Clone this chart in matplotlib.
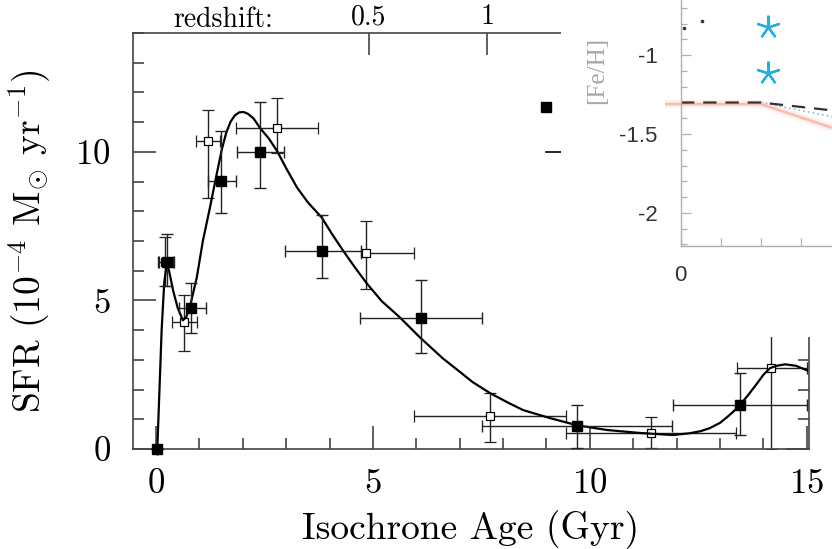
import matplotlib
matplotlib.use("Agg")
import matplotlib.pyplot as plt
from matplotlib.patches import Rectangle
from matplotlib.ticker import MultipleLocator, FixedLocator

"""----- data read off the figure -----"""

# fitted SFR curve (Gyr, 1e-4 Msun/yr)
curve_age = [0.03, 0.08, 0.13, 0.19, 0.25, 0.30, 0.40, 0.50, 0.62, 0.70, 0.80, 0.94,
             1.08, 1.24, 1.40, 1.52, 1.62, 1.72, 1.82, 1.92, 2.02, 2.12, 2.25, 2.40,
             2.60, 2.79, 3.00, 3.25, 3.50, 3.82, 4.05, 4.31, 4.60, 4.86, 5.20, 5.62,
             6.08, 6.61, 7.00, 7.30, 7.70, 8.10, 8.46, 9.08, 9.70, 10.39, 11.15, 11.91,
             12.30, 12.55, 12.76, 13.00, 13.16, 13.30, 13.46, 13.65, 13.85, 14.00,
             14.15, 14.30, 14.50, 14.75, 15.00]
curve_sfr = [0.0, 2.0, 4.0, 5.6, 6.27, 6.0, 5.3, 4.75, 4.33, 4.45, 4.9, 5.77,
             7.0, 8.1, 9.26, 10.1, 10.65, 11.02, 11.23, 11.33, 11.34, 11.28, 11.12, 10.8,
             10.45, 10.03, 9.45, 8.8, 8.3, 7.79, 7.25, 6.68, 6.08, 5.57, 4.98, 4.43,
             3.76, 3.05, 2.6, 2.25, 1.88, 1.57, 1.31, 1.04, 0.8, 0.64, 0.54, 0.47,
             0.53, 0.6, 0.7, 0.88, 1.07, 1.25, 1.48, 1.82, 2.2, 2.5,
             2.72, 2.8, 2.85, 2.8, 2.65]

# filled squares: value, age range, sfr range
filled_age = [0.03, 0.25, 0.80, 1.50, 2.40, 3.82, 6.10, 9.70, 13.46]
filled_sfr = [0.0, 6.28, 4.73, 9.02, 10.0, 6.68, 4.42, 0.77, 1.48]
filled_age_lo = [0.03, 0.05, 0.53, 1.20, 1.87, 2.97, 4.70, 7.51, 11.91]
filled_age_hi = [0.03, 0.41, 1.15, 1.84, 2.95, 4.72, 7.51, 11.89, 15.0]
filled_sfr_lo = [0.0, 5.50, 3.90, 7.95, 8.80, 5.74, 3.22, 0.05, 0.47]
filled_sfr_hi = [0.0, 7.25, 5.57, 10.70, 11.68, 7.88, 5.70, 1.47, 2.55]

# open squares
open_age = [0.20, 0.64, 1.19, 2.79, 4.84, 7.70, 11.40, 14.17]
open_sfr = [6.30, 4.26, 10.37, 10.80, 6.58, 1.10, 0.54, 2.72]
open_age_lo = [0.06, 0.37, 0.92, 1.84, 4.72, 5.94, 9.45, 13.39]
open_age_hi = [0.40, 0.94, 1.47, 3.73, 5.94, 9.45, 13.36, 15.0]
open_sfr_lo = [5.50, 3.29, 8.46, 9.95, 5.40, 0.23, 0.03, 0.0]
open_sfr_hi = [7.15, 5.17, 11.40, 11.81, 7.68, 1.88, 1.07, 4.20]

# leftover legend symbols peeking out from under the inset
legend_sq_age, legend_sq_sfr = 9.0, 11.5
legend_line_age = [8.99, 9.33]
legend_line_sfr = [10.0, 10.0]

# redshift axis on top
z_labels = ["0.5", "1"]
z_age = [4.91, 7.63]

# pasted [Fe/H] panel (top right)
feh_ticks = [-1.0, -1.5, -2.0]
feh_ticklabels = ["-1", "-1.5", "-2"]
dash_x = [0.0, 2.0, 3.78]
dash_y = [-1.30, -1.30, -1.35]
salmon_x = [-0.4, 2.0, 3.78]
salmon_y = [-1.31, -1.31, -1.46]
dot_x = [2.0, 3.78]
dot_y = [-1.30, -1.39]
star_x = [2.18, 2.18]
star_y = [-0.82, -1.11]
speck_x = [0.53, 0.07]
speck_y = [-0.78, -0.83]


def errs(val, lo, hi):
    return [[v - l for v, l in zip(val, lo)], [h - v for v, h in zip(val, hi)]]


plt.rcParams["font.family"] = ["cmr10"]
plt.rcParams["mathtext.fontset"] = "cm"
plt.rcParams["axes.formatter.use_mathtext"] = True

W, H = 832, 549
fig = plt.figure(figsize=(W / 100, H / 100), dpi=100)

ax = fig.add_axes([133 / W, 1 - 449 / H, (809 - 133) / W, (449 - 33) / H])
ax.set_xlim(-0.53, 15.05)
ax.set_ylim(0, 14)

axis_col = "#444444"
for s in ax.spines.values():
    s.set_color(axis_col)
    s.set_linewidth(1.2)

ax.plot(curve_age, curve_sfr, color="black", lw=1.6, zorder=3,
        solid_joinstyle="round")

ax.errorbar(open_age, open_sfr,
            xerr=errs(open_age, open_age_lo, open_age_hi),
            yerr=errs(open_sfr, open_sfr_lo, open_sfr_hi),
            fmt="s", ms=6, mfc="white", mec="black", mew=0.9,
            ecolor="#222222", elinewidth=1.0, capsize=4, capthick=1.0, zorder=2)
ax.errorbar(filled_age, filled_sfr,
            xerr=errs(filled_age, filled_age_lo, filled_age_hi),
            yerr=errs(filled_sfr, filled_sfr_lo, filled_sfr_hi),
            fmt="s", ms=7.5, mfc="black", mec="black",
            ecolor="#222222", elinewidth=1.0, capsize=4, capthick=1.0, zorder=4,
            clip_on=False)

ax.plot([legend_sq_age], [legend_sq_sfr], "s", ms=7.5, color="black")
ax.plot(legend_line_age, legend_line_sfr, color="black", lw=1.2)

ax.xaxis.set_major_locator(MultipleLocator(5))
ax.xaxis.set_minor_locator(MultipleLocator(1))
ax.yaxis.set_major_locator(MultipleLocator(5))
ax.yaxis.set_minor_locator(MultipleLocator(1))
ax.tick_params(which="both", direction="in", color=axis_col, width=1.2,
               top=False, right=True, labelsize=25)
ax.tick_params(which="major", length=16.5)
ax.tick_params(which="minor", length=8)
ax.tick_params(axis="x", which="major", pad=14)
ax.tick_params(axis="y", which="major", pad=16)

ax.set_xlabel("Isochrone Age (Gyr)", fontsize=27, labelpad=7)
ax.set_ylabel(r"SFR (10$^{-4}$ M$_{\odot}$ yr$^{-1}$)", fontsize=27, labelpad=16)

# redshift ticks along the top
top = ax.twiny()
top.set_xlim(ax.get_xlim())
top.set_xticks(z_age, z_labels)
top.xaxis.set_minor_locator(FixedLocator([]))
top.tick_params(direction="in", length=16, width=1.2, color=axis_col,
                labelsize=20, pad=2)
for s in top.spines.values():
    s.set_visible(False)
fig.text(223 / W, 1 - 20 / H, "redshift:", fontsize=20, ha="center", va="center")

# white patch of the pasted panel
fig.patches.append(Rectangle((561 / W, 1 - 337 / H), 1 - 561 / W, 337 / H,
                             transform=fig.transFigure, facecolor="white",
                             edgecolor="none", zorder=1))

ins = fig.add_axes([681 / W, 1 - 246 / H, (W - 681) / W, 246 / H], zorder=2)
ins.set_xlim(0, 3.78)
ins.set_ylim(-2.21, -0.65)
for side in ["top", "right"]:
    ins.spines[side].set_visible(False)
for side in ["left", "bottom"]:
    ins.spines[side].set_color("#b0b0b0")
    ins.spines[side].set_linewidth(1.0)

ins.plot(salmon_x, salmon_y, color="#f8c2b4", lw=6, alpha=0.2, clip_on=False,
         solid_capstyle="butt")
ins.plot(salmon_x, salmon_y, color="#f5a18c", lw=2, alpha=0.65, clip_on=False,
         solid_capstyle="butt")
ins.plot(dot_x, dot_y, color="#8cc6e6", lw=1.3, ls=":")
ins.plot(dash_x, dash_y, color="#333333", lw=1.6, dashes=(6, 4))
ins.plot(star_x, star_y, ls="none", marker=(5, 2, 0), ms=17, mew=1.6,
         color="#1fb1e6")
ins.plot(speck_x, speck_y, ls="none", marker="o", ms=1.6, color="#333333")

ins.set_yticks(feh_ticks, feh_ticklabels)
ins.yaxis.set_minor_locator(MultipleLocator(0.1))
ins.xaxis.set_major_locator(FixedLocator([0]))
ins.xaxis.set_minor_locator(FixedLocator([1, 2, 3]))
ins.tick_params(which="both", direction="in", color="#b0b0b0", width=0.9,
                labelsize=16, labelcolor="#333333")
ins.tick_params(axis="y", which="major", length=7, pad=17)
ins.tick_params(axis="y", which="minor", length=4)
ins.tick_params(axis="x", which="both", length=6, pad=14)
for lab in ins.get_xticklabels() + ins.get_yticklabels():
    lab.set_fontfamily(["Liberation Sans", "DejaVu Sans"])
fig.text(597 / W, 1 - 70 / H, "[Fe/H]", rotation=90, fontsize=18,
         color="#a8a8a8", family=["Liberation Serif", "DejaVu Serif"],
         ha="center", va="center", zorder=3)

fig.savefig("out.png", dpi=100)
